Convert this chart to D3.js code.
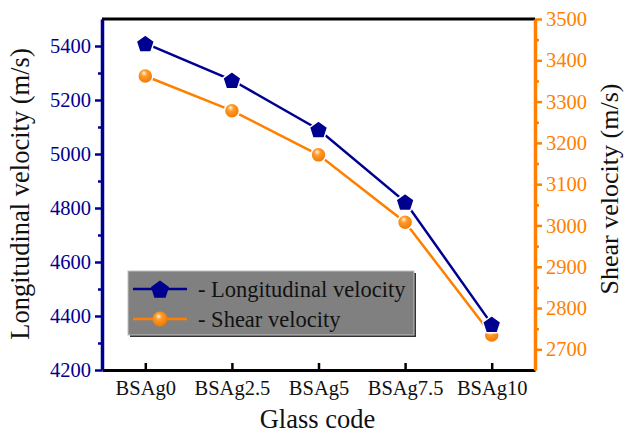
<!DOCTYPE html>
<html>
<head>
<meta charset="utf-8">
<script src="https://cdn.jsdelivr.net/npm/d3@7"></script>
<style>
body { margin: 0; background: #fff; }
</style>
</head>
<body>
<svg id="chart" width="625" height="437"></svg>
<script>
// data
var glassCodes = ["BSAg0", "BSAg2.5", "BSAg5", "BSAg7.5", "BSAg10"];
var longVelocity = [5410, 5274, 5091, 4823, 4370];
var shearVelocity = [3362, 3278, 3171, 3008, 2735];
var leftTicks = [4200, 4400, 4600, 4800, 5000, 5200, 5400];
var rightTicks = [2700, 2800, 2900, 3000, 3100, 3200, 3300, 3400, 3500];

var navy = "#000090";
var orange = "#ff8000";
var serif = "'Liberation Serif', 'Times New Roman', serif";

var svg = d3.select("#chart");
var pLeft = 102, pRight = 535, pTop = 19, pBottom = 370;

var x = d3.scalePoint().domain(glassCodes).range([pLeft, pRight]).padding(0.5);
var yL = d3.scaleLinear().domain([4200, 5500]).range([pBottom, pTop]);
var yR = d3.scaleLinear().domain([2650, 3500]).range([pBottom, pTop]);

var defs = svg.append("defs");
var grad = defs.append("radialGradient").attr("id", "ball")
	.attr("cx", "45%").attr("cy", "40%").attr("r", "60%")
	.attr("fx", "40%").attr("fy", "30%");
grad.append("stop").attr("offset", "0%").attr("stop-color", "#fff6e0");
grad.append("stop").attr("offset", "35%").attr("stop-color", "#ff9a2a");
grad.append("stop").attr("offset", "100%").attr("stop-color", "#f07800");

// frame top
svg.append("line").attr("x1", pLeft).attr("x2", pRight).attr("y1", pTop).attr("y2", pTop)
	.attr("stroke", "black").attr("stroke-width", 3);

// x axis
var xAxis = svg.append("g").attr("transform", "translate(0," + pBottom + ")")
	.call(d3.axisBottom(x).tickSize(-7).tickSizeOuter(0).tickPadding(10));
xAxis.select(".domain").attr("stroke", "black").attr("stroke-width", 3);
xAxis.selectAll(".tick line").attr("stroke", "black").attr("stroke-width", 2.5);
xAxis.selectAll("text").attr("font-size", 20.5).attr("fill", "#111")
	.attr("font-family", serif);

// left axis
var lMinor = svg.append("g").attr("transform", "translate(" + pLeft + ",0)")
	.call(d3.axisLeft(yL).tickValues(d3.range(4300, 5400, 200)).tickSize(4).tickFormat(""));
lMinor.select(".domain").remove();
lMinor.selectAll("line").attr("stroke", navy).attr("stroke-width", 2.5);
var lAxis = svg.append("g").attr("transform", "translate(" + pLeft + ",0)")
	.call(d3.axisLeft(yL).tickValues(leftTicks).tickSize(7).tickSizeOuter(0).tickPadding(4).tickFormat(d3.format("d")));
lAxis.select(".domain").attr("stroke", navy).attr("stroke-width", 3.5);
lAxis.selectAll(".tick line").attr("stroke", navy).attr("stroke-width", 2.5);
lAxis.selectAll("text").attr("font-size", 20.5).attr("fill", navy)
	.attr("font-family", serif);

// right axis
var rMinor = svg.append("g").attr("transform", "translate(" + pRight + ",0)")
	.call(d3.axisRight(yR).tickValues(d3.range(2750, 3500, 100)).tickSize(4).tickFormat(""));
rMinor.select(".domain").remove();
rMinor.selectAll("line").attr("stroke", orange).attr("stroke-width", 2.5);
var rAxis = svg.append("g").attr("transform", "translate(" + pRight + ",0)")
	.call(d3.axisRight(yR).tickValues(rightTicks).tickSize(7).tickSizeOuter(0).tickPadding(4).tickFormat(d3.format("d")));
rAxis.select(".domain").attr("stroke", orange).attr("stroke-width", 3.5);
rAxis.selectAll(".tick line").attr("stroke", orange).attr("stroke-width", 2.5);
rAxis.selectAll("text").attr("font-size", 20.5).attr("fill", orange)
	.attr("font-family", serif);

// titles
svg.append("text").attr("x", (pLeft + pRight) / 2 - 1).attr("y", 428)
	.attr("text-anchor", "middle").attr("font-family", serif).attr("font-size", 26.5)
	.attr("fill", "#111").text("Glass code");
svg.append("text").attr("transform", "translate(29,194) rotate(-90)")
	.attr("text-anchor", "middle").attr("font-family", serif).attr("font-size", 26.5)
	.attr("fill", "#111").text("Longitudinal velocity (m/s)");
svg.append("text").attr("transform", "translate(618,189) rotate(-90)")
	.attr("text-anchor", "middle").attr("font-family", serif).attr("font-size", 26)
	.attr("fill", "#111").text("Shear velocity (m/s)");

// series
var lineL = d3.line().x(function(d, i) { return x(glassCodes[i]); }).y(function(d) { return yL(d); });
var lineR = d3.line().x(function(d, i) { return x(glassCodes[i]); }).y(function(d) { return yR(d); });

svg.append("path").attr("d", lineR(shearVelocity)).attr("fill", "none")
	.attr("stroke", orange).attr("stroke-width", 2.5);
svg.append("path").attr("d", lineL(longVelocity)).attr("fill", "none")
	.attr("stroke", navy).attr("stroke-width", 2.5);

function pentagon(r) {
	var pts = [];
	for (var k = 0; k < 5; k++) {
		var a = -Math.PI / 2 + k * 2 * Math.PI / 5;
		pts.push([r * Math.cos(a), r * Math.sin(a)]);
	}
	return "M" + pts.join("L") + "Z";
}

svg.selectAll(".ball").data(shearVelocity).enter().append("circle")
	.attr("class", "ball")
	.attr("cx", function(d, i) { return x(glassCodes[i]); })
	.attr("cy", function(d) { return yR(d); })
	.attr("r", 7.5).attr("fill", "url(#ball)")
	.attr("stroke", "white").attr("stroke-width", 1.5);

svg.selectAll(".pent").data(longVelocity).enter().append("path")
	.attr("class", "pent")
	.attr("d", pentagon(9.5))
	.attr("transform", function(d, i) { return "translate(" + x(glassCodes[i]) + "," + (yL(d) + 1) + ")"; })
	.attr("fill", navy).attr("stroke", "white").attr("stroke-width", 1.5);

// legend
var lg = svg.append("g");
lg.append("rect").attr("x", 130).attr("y", 273).attr("width", 286).attr("height", 64).attr("fill", "#333");
lg.append("rect").attr("x", 128).attr("y", 271).attr("width", 286).attr("height", 64)
	.attr("fill", "#808080").attr("stroke", "#c0c0c0").attr("stroke-width", 1);
var legendItems = [
	{ label: "- Longitudinal velocity", color: navy, shape: "pent" },
	{ label: "- Shear velocity", color: orange, shape: "ball" }
];
legendItems.forEach(function(it, i) {
	var yy = 289 + i * 30;
	lg.append("line").attr("x1", 133).attr("x2", 187).attr("y1", yy).attr("y2", yy)
		.attr("stroke", it.color).attr("stroke-width", 2.5);
	if (it.shape === "pent") {
		lg.append("path").attr("d", pentagon(9.5)).attr("transform", "translate(160," + (yy + 1) + ")")
			.attr("fill", navy);
	} else {
		lg.append("circle").attr("cx", 160).attr("cy", yy).attr("r", 7.5).attr("fill", "url(#ball)");
	}
	lg.append("text").attr("x", 198).attr("y", yy + 8).attr("font-family", serif)
		.attr("font-size", 22.5).attr("fill", "#111").text(it.label);
});
</script>
</body>
</html>
